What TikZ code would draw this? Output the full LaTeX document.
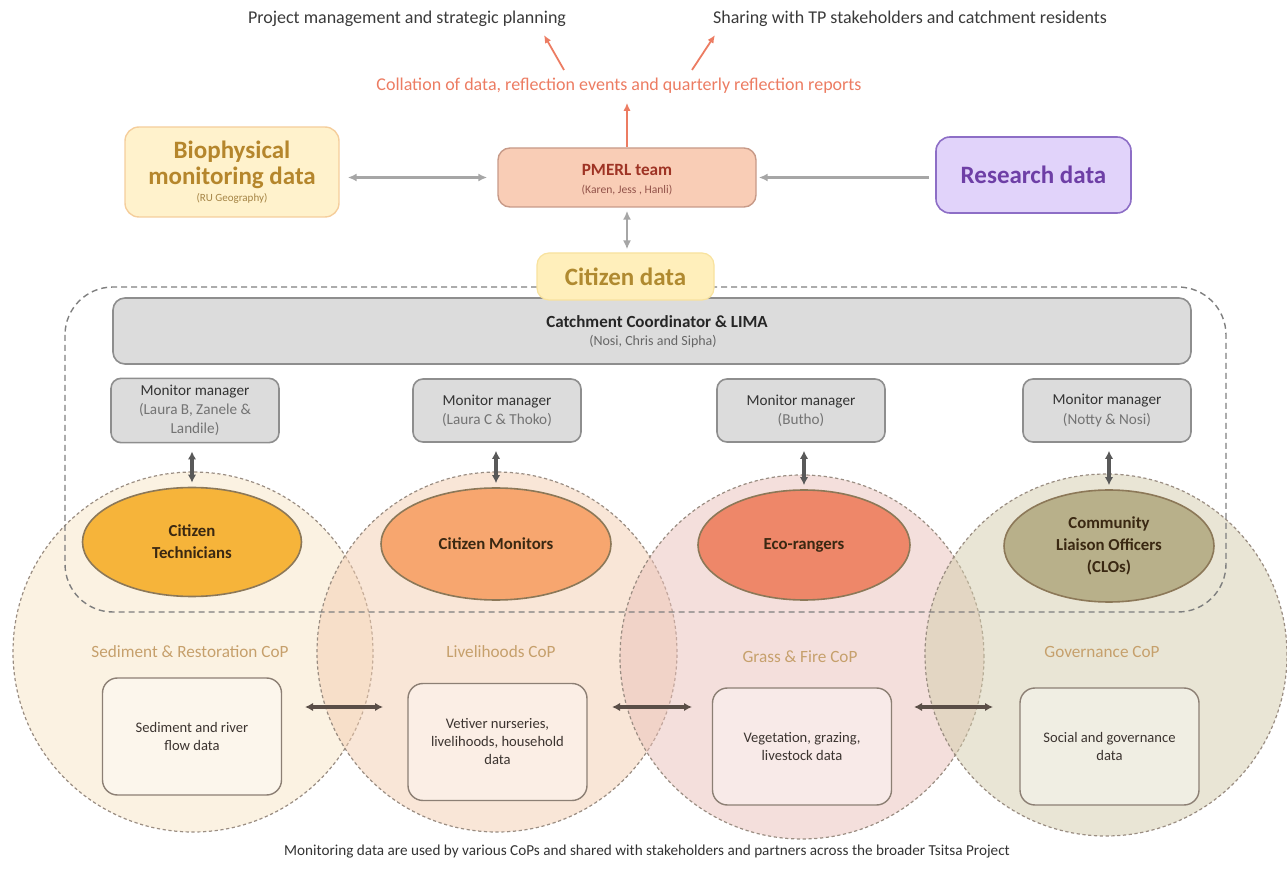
\documentclass[tikz,border=0pt]{standalone}
\usepackage{fontspec}
\setmainfont{Carlito}
\usetikzlibrary{arrows.meta,shapes.geometric}
\definecolor{toptext}{HTML}{3A3A3A}
\definecolor{salmon}{HTML}{EC7C62}
\definecolor{biofill}{HTML}{FFF2CC}
\definecolor{biodraw}{HTML}{F5CE9C}
\definecolor{biotext}{HTML}{B5862C}
\definecolor{pmfill}{HTML}{F9CDB6}
\definecolor{pmdraw}{HTML}{C79A88}
\definecolor{pmtext}{HTML}{9E3324}
\definecolor{resfill}{HTML}{E1D3FA}
\definecolor{resdraw}{HTML}{8D6EC6}
\definecolor{restext}{HTML}{6E3FA6}
\definecolor{citfill}{HTML}{FFEFBB}
\definecolor{citdraw}{HTML}{F8E29E}
\definecolor{cittext}{HTML}{B08A30}
\definecolor{grayfill}{HTML}{DCDCDC}
\definecolor{graydraw}{HTML}{8E8E8E}
\definecolor{arrg}{HTML}{A6A6A6}
\definecolor{arrd}{HTML}{595959}
\definecolor{arrb}{HTML}{5A4E47}
\definecolor{dashc}{HTML}{7F7F7F}
\definecolor{circdash}{HTML}{9A8D82}
\definecolor{copa}{HTML}{F8E6C6}
\definecolor{copb}{HTML}{F3CDB0}
\definecolor{copc}{HTML}{EAC0B9}
\definecolor{copd}{HTML}{D3CCAB}
\definecolor{coplabel}{HTML}{C6A06C}
\definecolor{ella}{HTML}{F6B43A}
\definecolor{ellb}{HTML}{F7A66F}
\definecolor{ellc}{HTML}{EE8769}
\definecolor{elld}{HTML}{B8B08A}
\definecolor{elldraw}{HTML}{8C7858}
\definecolor{elltext}{HTML}{3A2812}
\definecolor{dboxdraw}{HTML}{8C7F74}
\definecolor{dtext}{HTML}{3C3430}
\begin{document}
\begin{tikzpicture}[x=0.5pt,y=-0.5pt,
  copcirc/.style={circle, draw=circdash, line width=0.6pt, dash pattern=on 1.6pt off 1.3pt, inner sep=0pt, fill opacity=0.5},
  coplab/.style={text=coplabel, font=\fontsize{8.6}{10}\selectfont},
  databox/.style={draw=dboxdraw, line width=0.7pt, rounded corners=7.5pt, minimum width=89.5pt, minimum height=58.5pt, align=center, fill=white, fill opacity=0.35, text opacity=1, text=dtext, font=\fontsize{7.3}{9}\selectfont},
  ell/.style={ellipse, draw=elldraw, line width=0.8pt, align=center, inner sep=0pt, text=elltext, font=\bfseries\fontsize{8.4}{11}\selectfont},
  mmbox/.style={draw=graydraw, fill=grayfill, line width=0.8pt, rounded corners=5pt, minimum width=84pt, minimum height=31.5pt, align=center, font=\fontsize{7.6}{9.6}\selectfont, text=black!80},
  toplab/.style={text=toptext, font=\fontsize{9}{10.5}\selectfont},
  garrow/.style={draw=arrg, line width=1.1pt},
  gtip/.style={-{Latex[length=4.5pt,width=4pt]}},
  gtips/.style={{Latex[length=4.5pt,width=4pt]}-{Latex[length=4.5pt,width=4pt]}},
  darrow/.style={draw=arrd, line width=1.6pt, {Latex[length=4pt,width=4.2pt]}-{Latex[length=4pt,width=4.2pt]}},
  barrow/.style={draw=arrb, line width=1.6pt, {Latex[length=4pt,width=4.2pt]}-{Latex[length=4pt,width=4.2pt]}},
  sarrow/.style={draw=salmon, line width=0.9pt, -{Latex[length=4pt,width=3.5pt]}}
]
\useasboundingbox (0,0) rectangle (1287,882);

% CoP circles
\node[copcirc, fill=copa, minimum size=180pt] (c1) at (193,652) {};
\node[copcirc, fill=copb, minimum size=180pt] (c2) at (497,652) {};
\node[copcirc, fill=copc, minimum size=182pt] (c3) at (802,657) {};
\node[copcirc, fill=copd, minimum size=181pt] (c4) at (1106,655) {};

% CoP labels
\node[coplab] (l1) at (190,652) {Sediment \& Restoration CoP};
\node[coplab] (l2) at (501,652) {Livelihoods CoP};
\node[coplab] (l3) at (800,657) {Grass \& Fire CoP};
\node[coplab] (l4) at (1102,652) {Governance CoP};

% data boxes
\node[databox] (d1) at (192,736.5) {Sediment and river\\flow data};
\node[databox] (d2) at (497.5,742) {Vetiver nurseries,\\livelihoods, household\\data};
\node[databox] (d3) at (802,746.5) {Vegetation, grazing,\\livestock data};
\node[databox] (d4) at (1109.5,746.5) {Social and governance\\data};

\coordinate (a1l) at (305,707); \coordinate (a1r) at (383,707);
\coordinate (a2l) at (612,707); \coordinate (a2r) at (692,707);
\coordinate (a3l) at (914,707); \coordinate (a3r) at (993,707);
\draw[barrow] (a1l) -- (a1r);
\draw[barrow] (a2l) -- (a2r);
\draw[barrow] (a3l) -- (a3r);

% role ellipses
\node[ell, fill=ella, minimum width=109.5pt, minimum height=54.5pt] (e1) at (192,542) {Citizen\\Technicians};
\node[ell, fill=ellb, minimum width=115pt, minimum height=56pt] (e2) at (496,544) {Citizen Monitors};
\node[ell, fill=ellc, minimum width=106pt, minimum height=55pt] (e3) at (804,545) {Eco-rangers};
\node[ell, fill=elld, minimum width=105pt, minimum height=56pt] (e4) at (1109,546) {Community\\Liaison Officers\\(CLOs)};

% dashed group
\draw[dashc, line width=0.7pt, dash pattern=on 3pt off 2pt, rounded corners=24pt] (65,287) rectangle (1226,612);

% catchment coordinator
\node[draw=graydraw, fill=grayfill, line width=0.8pt, rounded corners=6pt, minimum width=539pt, minimum height=33pt] (cc) at (652,331) {};
\node[text=black!85, font=\bfseries\fontsize{8.5}{10}\selectfont] (cct) at (657,322) {Catchment Coordinator \& LIMA};
\node[text=black!60, font=\fontsize{7}{8}\selectfont] (ccs) at (653,342) {(Nosi, Chris and Sipha)};

% monitor managers
\node[mmbox] (m1) at (195,410.5) {Monitor manager\\{\color{black!55}(Laura B, Zanele \&}\\{\color{black!55}Landile)}};
\node[mmbox] (m2) at (497,410.5) {Monitor manager\\{\color{black!55}(Laura C \& Thoko)}};
\node[mmbox] (m3) at (801,410.5) {Monitor manager\\{\color{black!55}(Butho)}};
\node[mmbox] (m4) at (1107,410.5) {Monitor manager\\{\color{black!55}(Notty \& Nosi)}};

\draw[darrow, shorten <=4pt, shorten >=2pt] (e1.north |- m1.south) -- (e1.north);
\draw[darrow, shorten <=4pt, shorten >=2pt] (e2.north |- m2.south) -- (e2.north);
\draw[darrow, shorten <=4pt, shorten >=2pt] (e3.north |- m3.south) -- (e3.north);
\draw[darrow, shorten <=4pt, shorten >=2pt] (e4.north |- m4.south) -- (e4.north);

% citizen data
\node[draw=citdraw, fill=citfill, line width=0.6pt, rounded corners=6pt, minimum width=88.5pt, minimum height=23.5pt, text=cittext, font=\bfseries\fontsize{12.5}{14}\selectfont] (cit) at (625.5,276.5) {Citizen data};

% top boxes
\node[draw=biodraw, fill=biofill, line width=0.7pt, rounded corners=7pt, minimum width=107pt, minimum height=45pt] (bio) at (232,172) {};
\node[text=biotext, font=\bfseries\fontsize{12.5}{13}\selectfont, align=center] (biot) at (232,165) {Biophysical\\monitoring data};
\node[text=biotext!70!gray, font=\fontsize{5.5}{6}\selectfont] (bios) at (232,198) {(RU Geography)};

\node[draw=pmdraw, fill=pmfill, line width=0.7pt, rounded corners=6pt, minimum width=129pt, minimum height=29.5pt] (pm) at (627,177.5) {};
\node[text=pmtext, font=\bfseries\fontsize{8.6}{10}\selectfont] (pmt) at (627,170) {PMERL team};
\node[text=pmtext!60!gray, font=\fontsize{5.8}{7}\selectfont] (pms) at (627,190) {(Karen, Jess , Hanli)};

\node[draw=resdraw, fill=resfill, line width=0.8pt, rounded corners=7pt, minimum width=97.5pt, minimum height=38pt, text=restext, font=\bfseries\fontsize{12.5}{14}\selectfont] (res) at (1033.5,175) {Research data};

\draw[garrow, gtips, shorten <=4pt, shorten >=5pt] (bio.east |- pm.west) -- (pm.west);
\draw[garrow, gtip, shorten <=3pt, shorten >=1pt] (res.west |- pm.east) -- (pm.east);
\draw[garrow, gtips, shorten <=1.5pt, shorten >=1.5pt] (pm.south) -- (pm.south |- cit.north);

% collation and outputs
\node[text=salmon, font=\fontsize{9}{10.5}\selectfont] (col) at (619,86) {Collation of data, reflection events and quarterly reflection reports};
\node[toplab] (proj) at (407,19) {Project management and strategic planning};
\node[toplab] (share) at (910,19) {Sharing with TP stakeholders and catchment residents};
\draw[sarrow, shorten >=1pt] (pm.north) -- (pm.north |- col.south);
\coordinate (t1) at (564,70); \coordinate (h1) at (544,35);
\coordinate (t2) at (692,70); \coordinate (h2) at (715,35);
\draw[sarrow] (t1) -- (h1);
\draw[sarrow] (t2) -- (h2);

% bottom caption
\node[text=black!80, font=\fontsize{7.6}{8.6}\selectfont] (cap) at (647,852) {Monitoring data are used by various CoPs and shared with stakeholders and partners across the broader Tsitsa Project};
\end{tikzpicture}
\end{document}
